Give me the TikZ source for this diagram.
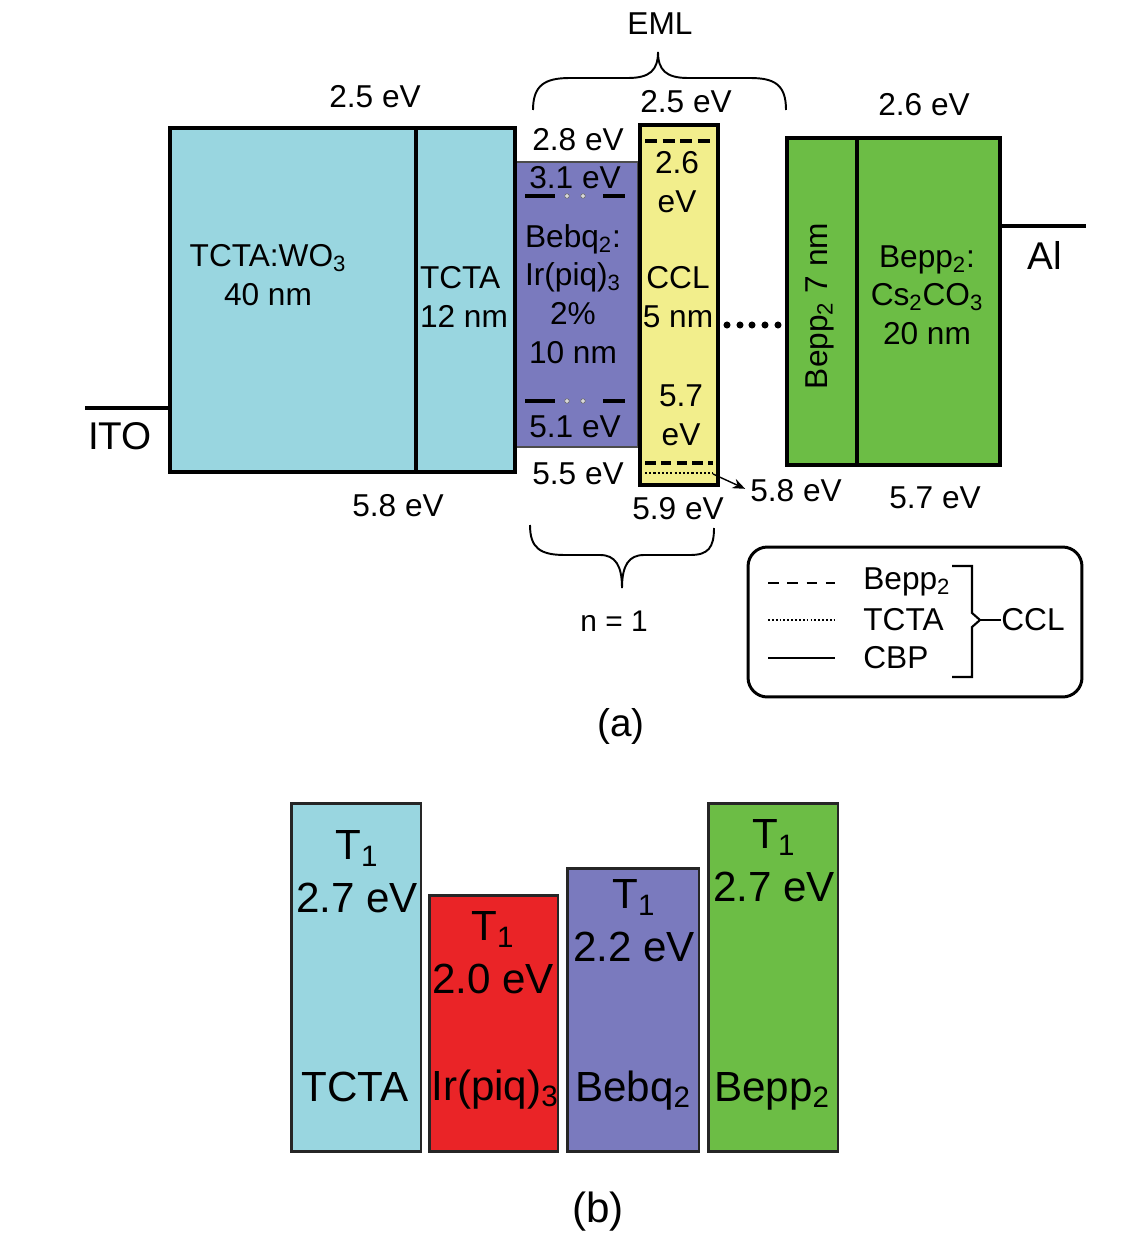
\documentclass[tikz,border=0pt]{standalone}
\usepackage{fontspec}
\setmainfont{Liberation Sans}
\usepackage{tikz}
\usetikzlibrary{positioning,arrows.meta}

\definecolor{tctacyan}{HTML}{99D6E0}
\definecolor{bebqpurple}{HTML}{7A7ABE}
\definecolor{cclyellow}{HTML}{F2EE8C}
\definecolor{beppgreen}{HTML}{6CBD45}
\definecolor{irred}{HTML}{EA2427}

\begin{document}
\begin{tikzpicture}[x=0.02cm, y=-0.02cm,
      layer/.style   = {rectangle, draw, line width=2.2pt, inner sep=0pt},
      triplet/.style = {rectangle, draw=black!85, line width=1.7pt,
                        inner sep=0pt, minimum width=2.6cm},
      lbl/.style     = {inner sep=0pt, align=center,
                        font=\fontsize{18}{22}\selectfont},
      big/.style     = {inner sep=0pt, align=center,
                        font=\fontsize{24}{30}\selectfont},
      level/.style   = {line width=2pt},
      brk/.style     = {line width=1.1pt}
    ]
  \useasboundingbox (0,0) rectangle (1143,1233);

  % (a) device stack
  \node[rectangle, draw=black!70, line width=1pt, fill=bebqpurple, inner sep=0pt,
        minimum width=2.46cm, minimum height=5.7cm]                  (bebq) at (576.5,304.5) {};
  \node[layer, fill=tctacyan, minimum width=4.92cm, minimum height=6.88cm] (wo3)  at (293,300) {};
  \node[layer, fill=tctacyan, minimum width=1.98cm, minimum height=6.88cm] (tcta) at (465.5,300) {};
  \node[layer, line width=2.8pt, fill=cclyellow,
        minimum width=1.56cm, minimum height=7.2cm]                  (ccl)  at (679,305) {};
  \node[layer, fill=beppgreen, minimum width=1.4cm,  minimum height=6.54cm] (bepp) at (822,301.5) {};
  \node[layer, fill=beppgreen, minimum width=2.86cm, minimum height=6.54cm] (cs)   at (928.5,301.5) {};

  \node[lbl]             (wo3txt)  at (268,275) {TCTA:WO\textsubscript{3}\\40 nm};
  \node[lbl, align=left] (tctatxt) at (464,297) {TCTA\\12 nm};
  \node[lbl]             (bebqtxt) at (573,294) {Bebq\textsubscript{2}:\\Ir(piq)\textsubscript{3}\\2\%\\10 nm};
  \node[lbl]             (cclhi)   at (677,182) {2.6\\eV};
  \node[lbl]             (cclmid)  at (678,297) {CCL\\5 nm};
  \node[lbl]             (ccllo)   at (681,415) {5.7\\eV};
  \node[lbl, rotate=90]  (bepptxt) at (820,306) {Bepp\textsubscript{2} 7 nm};
  \node[lbl]             (cstxt)   at (927,295) {Bepp\textsubscript{2}:\\Cs\textsubscript{2}CO\textsubscript{3}\\20 nm};

  % energy levels
  \node[lbl] (wo3lumo)  at (375,97)  {2.5 eV};
  \node[lbl] (wo3homo)  at (398,506) {5.8 eV};
  \node[lbl] (bebqlumo) at (578,140) {2.8 eV};
  \node[lbl] (bebqhomo) at (578,474) {5.5 eV};
  \node[lbl] (ccllumo)  at (686,102) {2.5 eV};
  \node[lbl] (cclhomo)  at (678,509) {5.9 eV};
  \node[lbl] (tctahomo) at (796,491) {5.8 eV};
  \node[lbl] (bepplumo) at (924,105) {2.6 eV};
  \node[lbl] (bepphomo) at (935,498) {5.7 eV};
  \node[lbl] (bebqup)   at (575,178) {3.1 eV};
  \node[lbl] (bebqdn)   at (575,427) {5.1 eV};

  \foreach \y in {196,401} {
    \draw[level] (525,\y) -- (555,\y);
    \draw[level] (603,\y) -- (625,\y);
    \foreach \x in {567,583}
      \filldraw[fill=black!15, draw=black!60, line width=0.3pt] (\x,\y) circle (1.3pt);
  }

  \draw[line width=2.6pt, dash pattern=on 7pt off 3pt] (645,141) -- (713,141);
  \draw[level, dash pattern=on 6pt off 3pt]            (645,463) -- (713,463);
  \draw[line width=1.6pt, dash pattern=on 1.2pt off 1.2pt] (645,473) -- (713,473);
  \coordinate (tctaend) at (713,474);
  \draw[-{Stealth[length=2.5mm,width=2mm]}, line width=0.8pt, shorten >=3pt]
        (tctaend) -- (tctahomo.west);

  \foreach \x in {727,740,752,765,778}
    \fill (\x,325) circle (2pt);

  % electrodes
  \coordinate (itoend) at (85,408);
  \draw[line width=1.8pt] (itoend) -- (wo3.west |- itoend);
  \node[inner sep=0pt, font=\fontsize{22}{26}\selectfont] (ito) at (120,436) {ITO};
  \coordinate (alend) at (1086,226);
  \draw[line width=1.8pt] (cs.east |- alend) -- (alend);
  \node[inner sep=0pt, font=\fontsize{22}{26}\selectfont] (al) at (1045,255) {Al};

  % braces
  \draw[brk] (533,110) .. controls (533,85) and (545,78) .. (570,78) -- (628,78)
             .. controls (650,78) and (658,70) .. (658,52)
             .. controls (658,70) and (666,78) .. (688,78) -- (750,78)
             .. controls (775,78) and (786,85) .. (786,110);
  \node[lbl] (eml) at (660,24) {EML};
  \draw[brk] (530,525) .. controls (530,548) and (540,555) .. (565,555) -- (600,555)
             .. controls (615,555) and (622,565) .. (622,588)
             .. controls (622,565) and (629,555) .. (644,555) -- (690,555)
             .. controls (708,555) and (714,548) .. (714,528);
  \node[lbl, font=\fontsize{17}{20}\selectfont] (period) at (614,621) {n = 1};

  % key
  \node[draw, line width=1.7pt, rounded corners=11pt, inner sep=0pt,
        minimum width=6.68cm, minimum height=3cm] (legend) at (915,622) {};
  \draw[line width=1.4pt, dash pattern=on 6pt off 5pt] (768,583) -- (835,583);
  \draw[line width=1.4pt, dash pattern=on 1pt off 1.2pt] (768,620) -- (835,620);
  \draw[line width=1.4pt] (768,658) -- (835,658);
  \node[lbl, anchor=west] (keybepp) at (863,582) {Bepp\textsubscript{2}};
  \node[lbl, anchor=west] (keytcta) at (863,620) {TCTA};
  \node[lbl, anchor=west] (keycbp)  at (863,658) {CBP};
  \node[lbl]              (keyccl)  at (1033,620) {CCL};
  \coordinate (keytip) at (980,620);
  \draw[line width=1.2pt] (952,566) -- (972,566) -- (972,613) -- (keytip)
        -- (972,627) -- (972,677) -- (952,677);
  \draw[line width=1.2pt] (keytip) -- (keyccl.west);

  \node[inner sep=0pt, font=\fontsize{22}{26}\selectfont] (capa) at (621,726) {(a)};

  % (b) triplet energies
  \node[triplet, fill=tctacyan,  minimum height=6.98cm]                    (tT) at (356,977.5)  {};
  \node[triplet, fill=irred,     minimum width=2.58cm, minimum height=5.14cm] (iT) at (493.5,1023.5) {};
  \node[triplet, fill=bebqpurple, minimum width=2.64cm, minimum height=5.68cm] (bT) at (633,1010) {};
  \node[triplet, fill=beppgreen, minimum height=6.98cm]                    (pT) at (773,977.5)  {};

  \node[big] (tTe) at (357,872) {T\textsubscript{1}\\2.7 eV};
  \node[big] (iTe) at (493,953) {T\textsubscript{1}\\2.0 eV};
  \node[big] (bTe) at (634,921) {T\textsubscript{1}\\2.2 eV};
  \node[big] (pTe) at (774,861) {T\textsubscript{1}\\2.7 eV};
  \node[big, anchor=base] (tTn) at (355,1101) {TCTA};
  \node[big, anchor=base] (iTn) at (495,1100) {Ir(piq)\textsubscript{3}};
  \node[big, anchor=base] (bTn) at (633,1101) {Bebq\textsubscript{2}};
  \node[big, anchor=base] (pTn) at (772,1101) {Bepp\textsubscript{2}};

  \node[inner sep=0pt, font=\fontsize{24}{28}\selectfont] (capb) at (598,1212) {(b)};
\end{tikzpicture}
\end{document}
